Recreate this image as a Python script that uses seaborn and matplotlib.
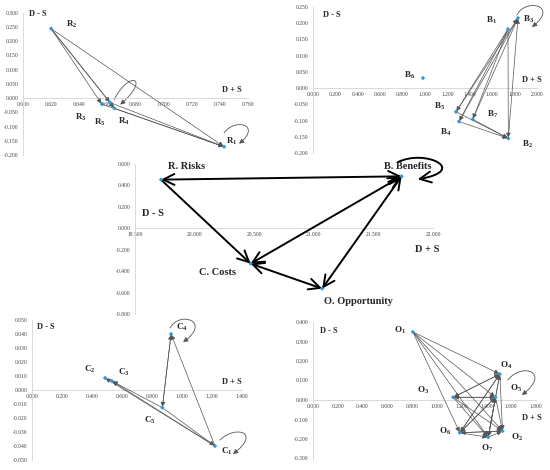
import numpy as np
import pandas as pd
import seaborn as sns
import matplotlib
matplotlib.use('Agg')
import matplotlib.pyplot as plt
from matplotlib.ticker import MultipleLocator, FuncFormatter
from matplotlib.patches import FancyArrowPatch
from matplotlib.path import Path
from matplotlib.transforms import IdentityTransform

# ---- data ----
# R: risks
r_names = ['R1', 'R2', 'R3', 'R4', 'R5']
r_x = [0.743, 0.620, 0.656, 0.665, 0.662]
r_y = [-0.171, 0.244, -0.021, -0.036, -0.016]
r_edges = [('R2', 'R3'), ('R2', 'R5'), ('R2', 'R4'), ('R2', 'R1'),
           ('R3', 'R1'), ('R5', 'R1'), ('R4', 'R1')]

# B: benefits
b_names = ['B1', 'B2', 'B3', 'B4', 'B5', 'B6', 'B7']
b_x = [1.741, 1.744, 1.830, 1.304, 1.277, 0.982, 1.426]
b_y = [0.182, -0.155, 0.216, -0.103, -0.073, 0.031, -0.096]
b_edges = [('B5', 'B3'), ('B4', 'B3'), ('B7', 'B3'), ('B2', 'B3'),
           ('B1', 'B5'), ('B1', 'B4'), ('B1', 'B7'), ('B1', 'B2'),
           ('B5', 'B2'), ('B4', 'B2'), ('B7', 'B2')]

# main: BOCR
m_names = ['R. Risks', 'B. Benefits', 'C. Costs', 'O. Opportunity']
m_x = [19.718, 21.737, 20.470, 21.070]
m_y = [0.454, 0.485, -0.330, -0.563]
m_edges = [('R. Risks', 'B. Benefits', '<->'), ('R. Risks', 'C. Costs', '->'),
           ('B. Benefits', 'C. Costs', '<->'), ('C. Costs', 'O. Opportunity', '<->'),
           ('B. Benefits', 'O. Opportunity', '<->')]

# C: costs
c_names = ['C1', 'C2', 'C3', 'C4', 'C5']
c_x = [1.220, 0.487, 0.533, 0.927, 0.869]
c_y = [-0.040, 0.0086, 0.0064, 0.040, -0.0126]
c_edges = [('C1', 'C2'), ('C1', 'C3'), ('C5', 'C3'), ('C4', 'C5'),
           ('C1', 'C4'), ('C5', 'C1'), ('C5', 'C4')]

# O: opportunity
o_names = ['O1', 'O2', 'O3', 'O4', 'O5', 'O6', 'O7']
o_x = [0.806, 1.530, 1.131, 1.508, 1.473, 1.185, 1.414]
o_y = [0.349, -0.159, 0.014, 0.133, 0.014, -0.168, -0.191]
o_edges = [('O1', 'O4'), ('O1', 'O5'), ('O1', 'O6'), ('O1', 'O7'), ('O1', 'O2'),
           ('O3', 'O4'), ('O3', 'O5'), ('O3', 'O7'), ('O3', 'O2'),
           ('O4', 'O3'), ('O4', 'O6'), ('O4', 'O7'), ('O4', 'O2'),
           ('O5', 'O6'), ('O5', 'O7'), ('O5', 'O2'), ('O5', 'O3'),
           ('O6', 'O4'), ('O6', 'O5'), ('O6', 'O7'), ('O6', 'O2'),
           ('O7', 'O4'), ('O7', 'O5'), ('O7', 'O2'), ('O2', 'O6')]

# ---- style ----
sns.set_style('white')
plt.rcParams['font.family'] = ['Liberation Serif', 'DejaVu Serif']
plt.rcParams['mathtext.fontset'] = 'custom'
plt.rcParams['mathtext.rm'] = 'Liberation Serif:bold'
plt.rcParams['mathtext.it'] = 'Liberation Serif:bold'
plt.rcParams['mathtext.bf'] = 'Liberation Serif:bold'

W, H = 550, 470
fig = plt.figure(figsize=(5.5, 4.7), dpi=100)
fig.patch.set_facecolor('white')

fmt = FuncFormatter(lambda v, p: '%.3f' % (0 if abs(v) < 1e-9 else v))


def make_ax(px_left, px_top, px_right, px_bottom, xlim, ylim, xstep, ystep):
    ax = fig.add_axes([px_left / W, 1 - px_bottom / H,
                       (px_right - px_left) / W, (px_bottom - px_top) / H])
    ax.set_xlim(xlim)
    ax.set_ylim(ylim)
    ax.xaxis.set_major_locator(MultipleLocator(xstep))
    ax.yaxis.set_major_locator(MultipleLocator(ystep))
    ax.xaxis.set_major_formatter(fmt)
    ax.yaxis.set_major_formatter(fmt)
    ax.spines[['top', 'right']].set_visible(False)
    ax.spines['bottom'].set_position(('data', 0))
    for s in ['left', 'bottom']:
        ax.spines[s].set_color('#d9d9d9')
        ax.spines[s].set_linewidth(0.7)
    ax.tick_params(labelsize=4, labelcolor='#404040', color='#d9d9d9',
                   length=2, width=0.5, pad=1, direction='out')
    ax.patch.set_alpha(0)
    return ax


def subs(name):
    if len(name) == 2:
        return name[0] + '$_{' + name[1] + '}$'
    return name


def draw_net(ax, names, xs, ys, edges, offsets, fs=6.5, color='#555555',
             lw=0.5, ms=7):
    pos = dict(zip(names, zip(xs, ys)))
    for e in edges:
        a, b = e[0], e[1]
        ax.annotate('', xy=pos[b], xytext=pos[a], annotation_clip=False,
                    arrowprops=dict(arrowstyle='-|>', color=color, lw=lw,
                                    shrinkA=0, shrinkB=0.5, mutation_scale=ms))
    df = pd.DataFrame({'x': xs, 'y': ys})
    sns.scatterplot(data=df, x='x', y='y', ax=ax, marker='D', s=5,
                    color='#2a9ad8', edgecolor='none', zorder=5)
    for n, x, y in zip(names, xs, ys):
        dx, dy = offsets[n]
        ax.annotate(subs(n), (x, y), xytext=(dx, dy), textcoords='offset pixels',
                    ha='center', va='center', fontsize=fs, fontweight='bold',
                    annotation_clip=False)
    ax.set_xlabel('')
    ax.set_ylabel('')
    return pos


def loop(ax, node, offs, color='#555555', lw=0.6, ms=7, style='-|>'):
    # self-loop drawn as a cubic curve, offsets in pixels from the node (y down)
    nx, ny = ax.transData.transform(node)
    verts = [(nx + dx, ny - dy) for dx, dy in offs]
    path = Path(verts, [Path.MOVETO, Path.CURVE4, Path.CURVE4, Path.CURVE4])
    p = FancyArrowPatch(path=path, arrowstyle=style, color=color, lw=lw,
                        mutation_scale=ms, transform=IdentityTransform(),
                        clip_on=False)
    ax.add_patch(p)


def axis_names(ax, ds, dp, fs=6):
    ax.text(ds[0], ds[1], 'D - S', transform=ax.transAxes, ha='center',
            va='center', fontsize=fs, fontweight='bold')
    ax.text(dp[0], dp[1], 'D + S', transform=ax.transAxes, ha='center',
            va='center', fontsize=fs, fontweight='bold')


# ---- panel R ----
ax1 = make_ax(23, 12.7, 248, 155, (0.6, 0.76), (-0.2, 0.3), 0.02, 0.05)
rp = draw_net(ax1, r_names, r_x, r_y, r_edges,
              {'R1': (8, 5), 'R2': (21, 4), 'R3': (-21, -13), 'R4': (9, -13),
               'R5': (-10, -20)})
loop(ax1, rp['R1'], [(0, -14), (11, -29), (38, -22), (15, -3)])
loop(ax1, rp['R5'], [(4, -3), (19, -33), (41, -25), (10, 2)])
axis_names(ax1, (0.067, 0.99), (0.93, 0.46))

# ---- panel B ----
ax2 = make_ax(313, 7, 537, 153, (0, 2.0), (-0.2, 0.25), 0.2, 0.05)
bp = draw_net(ax2, b_names, b_x, b_y, b_edges,
              {'B1': (-17, 9), 'B2': (19, -6), 'B3': (11, -1), 'B4': (-13, -11),
               'B5': (-16, 5), 'B6': (-13, 3), 'B7': (20, 5)})
loop(ax2, bp['B3'], [(-1, -3), (7, -20), (42, -13), (14, 9)])
axis_names(ax2, (0.085, 0.945), (0.975, 0.5))

# ---- main panel ----
ax3 = make_ax(135, 164, 433, 314, (19.5, 22.0), (-0.8, 0.6), 0.5, 0.2)
mpos = dict(zip(m_names, zip(m_x, m_y)))
for a, b, st in m_edges:
    ax3.annotate('', xy=mpos[b], xytext=mpos[a], annotation_clip=False,
                 arrowprops=dict(arrowstyle=st + ',head_length=0.45,head_width=0.22',
                                 color='black', lw=1.4, shrinkA=0, shrinkB=0,
                                 mutation_scale=18))
sns.scatterplot(x=m_x, y=m_y, ax=ax3, marker='D', s=5, color='#2a9ad8',
                edgecolor='none', zorder=5)
moff = {'R. Risks': (26, 13), 'B. Benefits': (6, 10), 'C. Costs': (-33, -9),
        'O. Opportunity': (36, -13)}
for n, x, y in zip(m_names, m_x, m_y):
    ax3.annotate(n, (x, y), xytext=moff[n], textcoords='offset pixels',
                 ha='center', va='center', fontsize=7.5, fontweight='bold',
                 annotation_clip=False)
loop(ax3, mpos['B. Benefits'], [(-4, -14), (23, -28), (68, -6), (16, 3)],
     color='black', lw=1.4, ms=18, style='->,head_length=0.45,head_width=0.22')
axis_names(ax3, (0.06, 0.667), (0.98, 0.427), fs=7.5)

# ---- panel C ----
ax4 = make_ax(32, 320, 242, 460, (0, 1.4), (-0.05, 0.05), 0.2, 0.01)
cp = draw_net(ax4, c_names, c_x, c_y, c_edges,
              {'C1': (12, -5), 'C2': (-15, 9), 'C3': (12, 9), 'C4': (11, 7),
               'C5': (-13, -13)})
loop(ax4, cp['C4'], [(-1, -6), (9, -24), (41, -12), (12, 8)])
loop(ax4, cp['C1'], [(5, -6), (20, -21), (47, -14), (18, 8)])
axis_names(ax4, (0.067, 0.95), (0.95, 0.56))

# ---- panel O ----
ax5 = make_ax(313, 322, 536, 458.5, (0, 1.8), (-0.3, 0.4), 0.2, 0.1)
op = draw_net(ax5, o_names, o_x, o_y, o_edges,
              {'O1': (-13, 2), 'O2': (14, -6), 'O3': (-30, 7), 'O4': (6, 9),
               'O5': (21, 9), 'O6': (-15, 1), 'O7': (-1, -11)})
loop(ax5, op['O4'], [(8, 6), (22, -12), (52, -2), (22, 21)])
axis_names(ax5, (0.07, 0.934), (0.98, 0.297))

fig.savefig('out.png', dpi=100)
